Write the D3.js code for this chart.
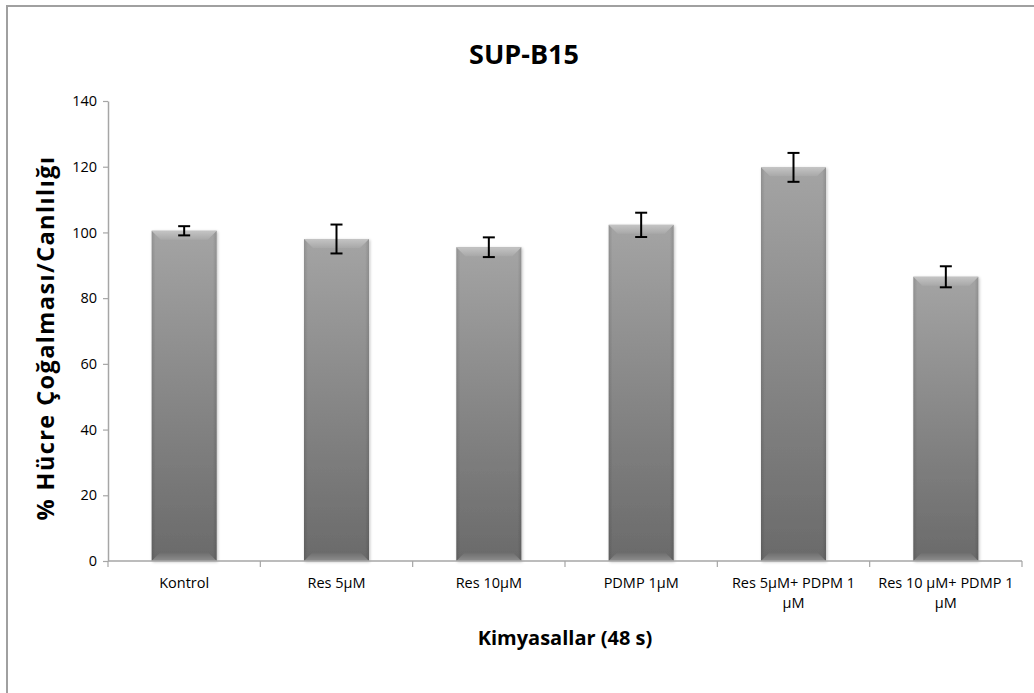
<!DOCTYPE html>
<html><head><meta charset="utf-8">
<script src="https://cdn.jsdelivr.net/npm/d3@7"></script>
<style>
html,body{margin:0;padding:0;background:#fff;}
svg text{font-family:"Open Sans",sans-serif;}
</style></head>
<body>
<svg id="c" width="1034" height="693"></svg>
<script>
const categories = [["Kontrol"],["Res 5µM"],["Res 10µM"],["PDMP 1µM"],["Res 5µM+ PDPM 1","µM"],["Res 10 µM+ PDMP 1","µM"]];
const values = [100.5, 98, 95.5, 102.3, 119.8, 86.5];
const errors = [1.4, 4.4, 3, 3.7, 4.4, 3.2];
const yTicks = [0,20,40,60,80,100,120,140];
const title = "SUP-B15";
const xTitle = "Kimyasallar (48 s)";
const yTitle = "% Hücre Çoğalması/Canlılığı";

const FONT = '"Open Sans",sans-serif';
const svg = d3.select("#c");
const m = {left:108, right:1022, top:101, bottom:561};
const keys = categories.map((c,i)=>"c"+i);
const x = d3.scaleBand().domain(keys).range([m.left,m.right]).paddingInner(0.573).paddingOuter(0.2865);
const y = d3.scaleLinear().domain([0,140]).range([m.bottom,m.top]);

// outer border (top and left only visible)
svg.append("path").attr("d","M7,693 V6 H1034").attr("fill","none").attr("stroke","#a0a0a0").attr("stroke-width",2);

const defs = svg.append("defs");
const g1 = defs.append("linearGradient").attr("id","body").attr("x1",0).attr("y1",0).attr("x2",0).attr("y2",1);
g1.append("stop").attr("offset","0%").attr("stop-color","#a4a4a4");
g1.append("stop").attr("offset","100%").attr("stop-color","#6a6a6a");
const g2 = defs.append("linearGradient").attr("id","side").attr("x1",0).attr("y1",0).attr("x2",1).attr("y2",0);
g2.append("stop").attr("offset","0%").attr("stop-color","#000").attr("stop-opacity",0.12);
g2.append("stop").attr("offset","6%").attr("stop-color","#000").attr("stop-opacity",0);
g2.append("stop").attr("offset","94%").attr("stop-color","#000").attr("stop-opacity",0);
g2.append("stop").attr("offset","100%").attr("stop-color","#000").attr("stop-opacity",0.12);
const g3 = defs.append("linearGradient").attr("id","topb").attr("x1",0).attr("y1",0).attr("x2",0).attr("y2",1);
g3.append("stop").attr("offset","0%").attr("stop-color","#c4c4c4");
g3.append("stop").attr("offset","100%").attr("stop-color","#a8a8a8");
const g4 = defs.append("linearGradient").attr("id","botb").attr("x1",0).attr("y1",0).attr("x2",0).attr("y2",1);
g4.append("stop").attr("offset","0%").attr("stop-color","#6a6a6a");
g4.append("stop").attr("offset","100%").attr("stop-color","#8e8e8e");
const f = defs.append("filter").attr("id","sh").attr("x","-10%").attr("y","-10%").attr("width","130%").attr("height","130%");
f.append("feGaussianBlur").attr("in","SourceAlpha").attr("stdDeviation",1.5);
f.append("feOffset").attr("dx",1).attr("dy",1).attr("result","o");
f.append("feComponentTransfer").append("feFuncA").attr("type","linear").attr("slope",0.25);
const mg = f.append("feMerge"); mg.append("feMergeNode"); mg.append("feMergeNode").attr("in","SourceGraphic");

// title
svg.append("text").attr("x",524).attr("y",64).attr("text-anchor","middle")
  .attr("font-size",27).attr("font-weight","bold").attr("fill","#000").text(title);

// bars
const bars = svg.append("g");
values.forEach((v,i)=>{
  const x0 = x(keys[i]), w = x.bandwidth(), yt = y(v), yb = y(0);
  const b = bars.append("g").attr("filter","url(#sh)");
  b.append("rect").attr("x",x0).attr("y",yt).attr("width",w).attr("height",yb-yt).attr("fill","url(#body)");
  b.append("rect").attr("x",x0).attr("y",yt).attr("width",w).attr("height",yb-yt).attr("fill","url(#side)");
  const bv = 9;
  b.append("path").attr("d",`M${x0},${yt} H${x0+w} L${x0+w-bv},${yt+bv} H${x0+bv} Z`).attr("fill","url(#topb)");
  b.append("path").attr("d",`M${x0},${yb} H${x0+w} L${x0+w-bv},${yb-bv} H${x0+bv} Z`).attr("fill","url(#botb)");
});

// axes
const ya = svg.append("g").attr("transform",`translate(${m.left},0)`)
  .call(d3.axisLeft(y).tickValues(yTicks).tickSize(5).tickPadding(6).tickSizeOuter(0));
ya.select(".domain").attr("stroke","#a6a6a6").attr("stroke-width",1.5);
ya.selectAll(".tick line").attr("stroke","#a6a6a6").attr("stroke-width",1.2);
ya.selectAll(".tick text").attr("font-size",14.5).attr("fill","#000").style("font-family",FONT);

const xa = svg.append("g").attr("transform",`translate(0,${m.bottom})`);
xa.append("line").attr("x1",m.left).attr("x2",m.right).attr("stroke","#a6a6a6").attr("stroke-width",1.5);
const bounds = keys.map(k=>x(k)-x.step()*x.paddingInner()/2).concat([m.right]);
xa.selectAll("line.t").data(bounds).join("line").attr("class","t")
  .attr("x1",d=>d).attr("x2",d=>d).attr("y1",0).attr("y2",6).attr("stroke","#a6a6a6").attr("stroke-width",1.2);
categories.forEach((lines,i)=>{
  const cx = x(keys[i]) + x.bandwidth()/2;
  const t = xa.append("text").attr("text-anchor","middle").attr("font-size",14.5).attr("fill","#000");
  lines.forEach((ln,j)=>t.append("tspan").attr("x",cx).attr("y",27+j*20).text(ln));
});

// error bars
const eb = svg.append("g").attr("stroke","#000").attr("stroke-width",2);
values.forEach((v,i)=>{
  const cx = x(keys[i]) + x.bandwidth()/2, e = errors[i];
  eb.append("line").attr("x1",cx).attr("x2",cx).attr("y1",y(v+e)).attr("y2",y(v-e));
  eb.append("line").attr("x1",cx-6).attr("x2",cx+6).attr("y1",y(v+e)).attr("y2",y(v+e));
  eb.append("line").attr("x1",cx-6).attr("x2",cx+6).attr("y1",y(v-e)).attr("y2",y(v-e));
});

// axis titles
svg.append("text").attr("x",565).attr("y",645).attr("text-anchor","middle")
  .attr("font-size",20).attr("font-weight","bold").attr("fill","#000").text(xTitle);
svg.append("text").attr("transform",`translate(54,338) rotate(-90)`).attr("text-anchor","middle")
  .attr("font-size",23.5).attr("font-weight","bold").attr("letter-spacing",1.4).attr("fill","#000").text(yTitle);
</script>
</body></html>
